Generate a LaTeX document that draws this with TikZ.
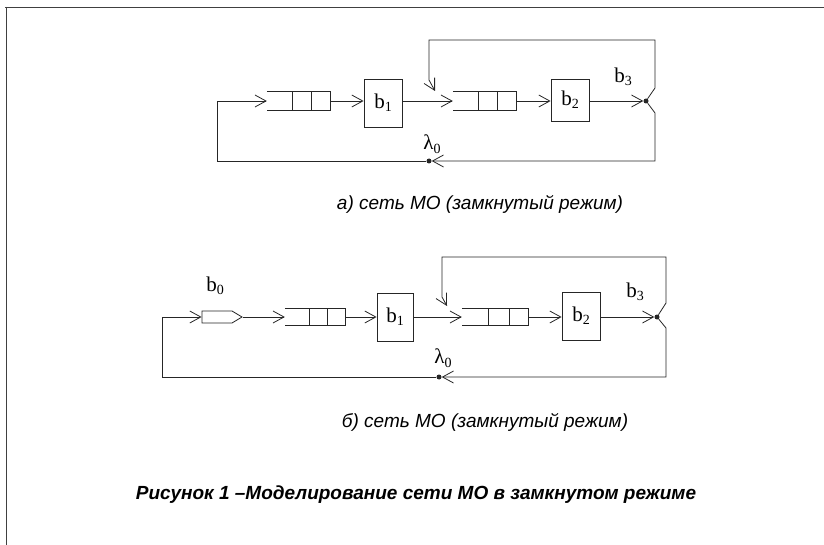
\documentclass[tikz,border=0pt]{standalone}
\usepackage{fontspec}
\setmainfont{Liberation Serif}
\newfontfamily\capfont{Liberation Sans}
\usetikzlibrary{arrows.meta,calc,shapes.symbols}
\newcommand\qsub[1]{\raisebox{-0.35ex}{\fontsize{14}{14}\selectfont #1}}
\newcommand\drawqueue[1]{%
  \draw[ln] (#1.north west) -- (#1.north east) -- (#1.south east) -- (#1.south west);
  \draw[ln] ($(#1.north west)!0.4!(#1.north east)$) -- ($(#1.south west)!0.4!(#1.south east)$);
  \draw[ln] ($(#1.north west)!0.71!(#1.north east)$) -- ($(#1.south west)!0.71!(#1.south east)$);}
\begin{document}
\begin{tikzpicture}[x=1pt,y=-1pt,
  ln/.style={line width=0.8pt, black!85},
  arr/.style={ln, -{Straight Barb[length=11pt,width=12pt,line width=0.8pt]}},
  box/.style={draw=black!85, line width=0.8pt, inner sep=0pt, font=\fontsize{21}{21}\selectfont},
  qnode/.style={draw=none, inner sep=0pt},
  dot/.style={circle, fill=black!85, inner sep=0pt, minimum size=5pt},
  lbl/.style={inner sep=0pt, font=\fontsize{21}{21}\selectfont},
  captext/.style={inner sep=0pt, font=\capfont\itshape\fontsize{19}{19}\selectfont}]
\useasboundingbox (0,0) rectangle (824,545);
% border
\draw[black!75, line width=0.8pt] (5,7) -- (824,7);
\draw[black!75, line width=0.8pt] (6,7) -- (6,545);

% ---------- diagram a ----------
\node[qnode, minimum width=63pt, minimum height=19pt] (aq1) at (298.5,101) {};
\node[qnode, minimum width=63pt, minimum height=19pt] (aq2) at (484.5,101) {};
\drawqueue{aq1}
\drawqueue{aq2}
\node[box, minimum width=38pt, minimum height=48pt] (a1) at (383,103) {b\qsub{1}};
\node[box, minimum width=38pt, minimum height=42pt] (a2) at (570,100) {b\qsub{2}};
\node[dot] (aJ) at (646,101) {};
\node[dot] (aL) at (429,161) {};
\coordinate (aF) at (435,91);
\node[lbl] (ab3) at (623,77) {b\qsub{3}};
\node[lbl] (al0) at (432,144) {λ\qsub{0}};

\draw[arr] (aq1.east) -- (aq1.east -| a1.west);
\draw[arr] (a1.east |- aq2.west) -- (aq2.west);
\draw[arr] (aq2.east) -- (aq2.east -| a2.west);
\draw[arr] (a2.east |- aJ) -- (aJ);
\draw[arr] (aJ) -- (655,88) -- (655,40) -- (429,40) -- (429,80) -- (aF);
\draw[arr] (aJ) -- (655,113) -- (655,161) -- (aL);
\draw[arr] (aL) -- (217,161) -- (217,101) -- (aq1.west);

\node[captext] (capa) at (480,204) {а) сеть МО (замкнутый режим)};

% ---------- diagram b ----------
\node[draw=black!85, line width=0.8pt, signal, signal to=east, signal pointer angle=62,
      minimum width=40pt, minimum height=12pt, inner sep=0pt] (b0) at (217,317) {};
\node[qnode, minimum width=60pt, minimum height=16pt] (bq1) at (315,317) {};
\node[qnode, minimum width=66pt, minimum height=16pt] (bq2) at (495,317) {};
\drawqueue{bq1}
\drawqueue{bq2}
\node[box, minimum width=36pt, minimum height=48pt] (b1) at (395,317) {b\qsub{1}};
\node[box, minimum width=38pt, minimum height=48pt] (b2) at (581,316) {b\qsub{2}};
\node[dot] (bJ) at (657,317) {};
\node[dot] (bL) at (439,377) {};
\coordinate (bF) at (447,306);
\node[lbl] (bb0) at (215,286) {b\qsub{0}};
\node[lbl] (bb3) at (635,292) {b\qsub{3}};
\node[lbl] (bl0) at (443,358) {λ\qsub{0}};

\draw[arr] (b0.east) -- (bq1.west);
\draw[arr] (bq1.east) -- (bq1.east -| b1.west);
\draw[arr] (b1.east |- bq2.west) -- (bq2.west);
\draw[arr] (bq2.east) -- (bq2.east -| b2.west);
\draw[arr] (b2.east |- bJ) -- (bJ);
\draw[arr] (bJ) -- (666,303) -- (666,257) -- (442,257) -- (442,297) -- (bF);
\draw[arr] (bJ) -- (666,328) -- (666,377) -- (bL);
\draw[arr] (bL) -- (162,377) -- (162,317) -- (b0.west);

\node[captext] (capb) at (485,422) {б) сеть МО (замкнутый режим)};

\node[inner sep=0pt, font=\capfont\bfseries\itshape\fontsize{19}{19}\selectfont] (fig) at (416,495)
  {Рисунок 1 –Моделирование сети МО в замкнутом режиме};
\end{tikzpicture}
\end{document}
